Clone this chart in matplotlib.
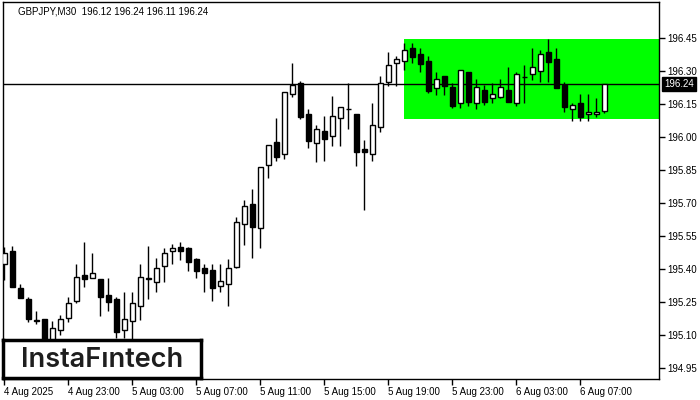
import matplotlib
matplotlib.use("Agg")
import matplotlib.pyplot as plt
import matplotlib.transforms as mtransforms
from matplotlib.patches import Rectangle

# GBPJPY M30 candles
opens = [195.423, 195.482, 195.314, 195.264, 195.164, 195.173, 195.055, 195.123, 195.177, 195.255,
         195.373, 195.359, 195.355, 195.282, 195.264, 195.123, 195.164, 195.232, 195.355, 195.341,
         195.414, 195.482, 195.500, 195.495, 195.445, 195.405, 195.395, 195.323, 195.332, 195.409,
         195.605, 195.695, 195.586, 195.873, 195.977, 195.923, 196.195, 196.245, 196.105, 195.973,
         196.027, 196.005, 196.086, 196.127, 196.105, 195.945, 195.923, 196.045, 196.250, 196.336,
         196.345, 196.405, 196.377, 196.345, 196.223, 196.277, 196.227, 196.155, 196.295, 196.155,
         196.214, 196.177, 196.182, 196.214, 196.155, 196.273, 196.286, 196.300, 196.386, 196.355,
         196.236, 196.127, 196.155, 196.105, 196.105, 196.120]
highs = [195.500, 195.505, 195.332, 195.273, 195.209, 195.173, 195.164, 195.191, 195.273, 195.423,
         195.523, 195.473, 195.355, 195.359, 195.273, 195.295, 195.295, 195.423, 195.505, 195.450,
         195.495, 195.514, 195.523, 195.500, 195.450, 195.423, 195.423, 195.423, 195.445, 195.636,
         195.714, 195.764, 195.864, 195.964, 196.086, 196.205, 196.336, 196.255, 196.127, 196.055,
         196.095, 196.186, 196.136, 196.245, 196.105, 195.986, 196.155, 196.277, 196.386, 196.368,
         196.427, 196.427, 196.405, 196.368, 196.295, 196.277, 196.245, 196.305, 196.295, 196.264,
         196.236, 196.245, 196.264, 196.318, 196.295, 196.327, 196.405, 196.395, 196.445, 196.405,
         196.250, 196.155, 196.195, 196.195, 196.177, 196.240]
lows = [195.350, 195.318, 195.268, 195.159, 195.150, 195.009, 195.023, 195.100, 195.159, 195.245,
        195.318, 195.359, 195.186, 195.209, 195.086, 195.086, 195.077, 195.168, 195.264, 195.295,
        195.341, 195.423, 195.441, 195.391, 195.359, 195.295, 195.255, 195.295, 195.232, 195.405,
        195.509, 195.450, 195.495, 195.814, 195.891, 195.900, 196.182, 196.082, 195.950, 195.886,
        195.891, 195.959, 195.959, 196.036, 195.868, 195.668, 195.891, 196.023, 196.232, 196.232,
        196.305, 196.336, 196.295, 196.200, 196.191, 196.191, 196.132, 196.132, 196.141, 196.127,
        196.145, 196.155, 196.177, 196.159, 196.141, 196.155, 196.259, 196.250, 196.250, 196.223,
        196.114, 196.073, 196.073, 196.073, 196.091, 196.110]
closes = [195.473, 195.318, 195.268, 195.173, 195.166, 195.041, 195.132, 195.173, 195.245, 195.364,
          195.355, 195.382, 195.273, 195.250, 195.114, 195.173, 195.245, 195.364, 195.357, 195.405,
          195.473, 195.495, 195.482, 195.432, 195.391, 195.382, 195.314, 195.345, 195.405, 195.614,
          195.686, 195.591, 195.864, 195.964, 195.909, 196.205, 196.236, 196.091, 195.982, 196.036,
          195.991, 196.095, 196.136, 196.129, 195.932, 195.932, 196.055, 196.245, 196.327, 196.355,
          196.395, 196.364, 196.332, 196.209, 196.264, 196.232, 196.141, 196.305, 196.159, 196.227,
          196.159, 196.195, 196.227, 196.159, 196.286, 196.275, 196.318, 196.377, 196.341, 196.223,
          196.136, 196.145, 196.091, 196.114, 196.114, 196.240]

tick_idx = [0, 8, 16, 24, 32, 40, 48, 56, 64, 72]
tick_labels = ["4 Aug 2025", "4 Aug 23:00", "5 Aug 03:00", "5 Aug 07:00", "5 Aug 11:00",
               "5 Aug 15:00", "5 Aug 19:00", "5 Aug 23:00", "6 Aug 03:00", "6 Aug 07:00"]
price_ticks = [194.95, 195.10, 195.25, 195.40, 195.55, 195.70, 195.85, 196.00, 196.15, 196.30, 196.45]

last_price = 196.24
zone_start = 50
zone_top = 196.445
zone_bottom = 196.082
title = "GBPJPY,M30  196.12 196.24 196.11 196.24"

plt.rcParams['font.family'] = ['Liberation Sans', 'DejaVu Sans']

W, H = 700, 400
fig = plt.figure(figsize=(7, 4), dpi=100)
ax = fig.add_axes([2.5 / W, (H - 379) / H, (659 - 2.5) / W, (379 - 2) / H])

x = list(range(len(opens)))

# green pattern zone
ax.add_patch(Rectangle((zone_start, zone_bottom), 200, zone_top - zone_bottom,
                       facecolor='#00ff00', edgecolor='none', zorder=1))

ax.axhline(last_price, color='black', lw=1, zorder=2)

ax.vlines(x, lows, highs, color='black', lw=1, zorder=3)
bottoms = [min(o, c) for o, c in zip(opens, closes)]
heights = [abs(c - o) for o, c in zip(opens, closes)]
colors = ['white' if c >= o else 'black' for o, c in zip(opens, closes)]
ax.bar(x, heights, bottom=bottoms, width=0.6, color=colors, edgecolor='black', lw=1, zorder=4)

ax.set_xlim(-0.2, 81.86)
ax.set_ylim(194.900, 196.614)

ax.yaxis.tick_right()
ax.set_yticks(price_ticks)
ax.set_yticklabels(["%.2f" % p for p in price_ticks])
ax.set_xticks(tick_idx)
ax.set_xticklabels(tick_labels, ha='left')
ax.tick_params(axis='both', labelsize=7, length=4, width=1, color='black', pad=2)
for s in ax.spines.values():
    s.set_linewidth(1)

# current price label
trans = mtransforms.blended_transform_factory(ax.transAxes, ax.transData)
ax.text(1.008, last_price, "%.2f" % last_price, transform=trans, color='white', fontsize=7,
        va='center', ha='left',
        bbox=dict(boxstyle='square,pad=0.2', facecolor='black', edgecolor='black'))

fig.text(18 / W, 1 - 11 / H, title, fontsize=7, va='center', ha='left')

# logo
lax = fig.add_axes([3 / W, (H - 378) / H, 198 / W, 38 / H])
lax.set_xticks([])
lax.set_yticks([])
lax.set_facecolor('white')
for s in lax.spines.values():
    s.set_linewidth(2.5)
lax.text(0.5, 0.47, "InstaF\u0131ntech", fontsize=19.5, fontweight='semibold', color='#1e1e1e',
         ha='center', va='center', family=['Inter', 'DejaVu Sans'], transform=lax.transAxes)

fig.savefig("out.png", dpi=100)
